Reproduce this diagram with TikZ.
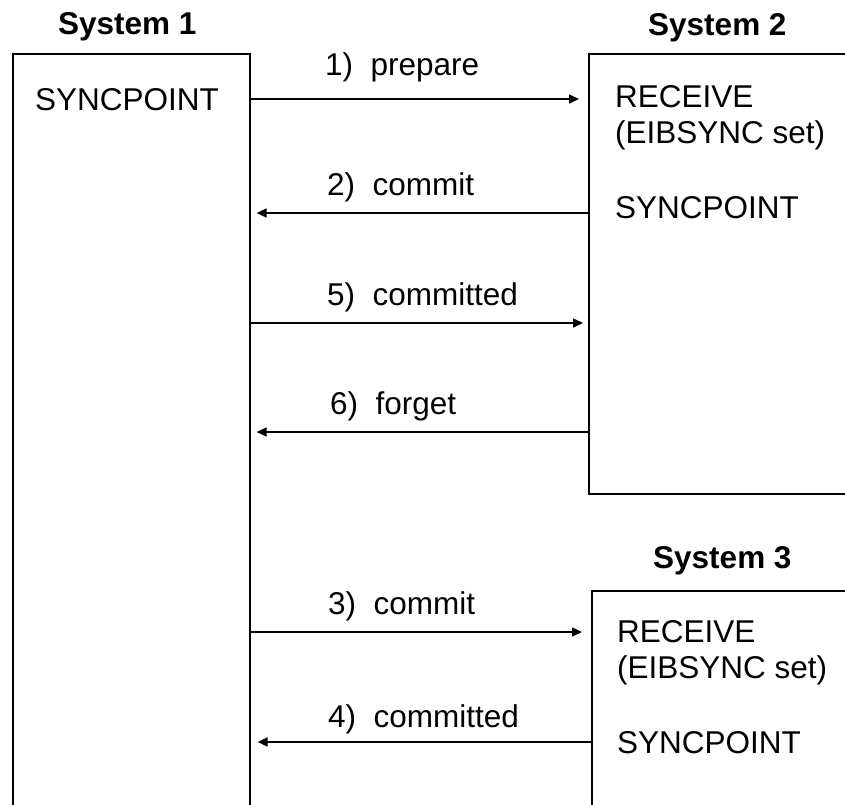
\documentclass[tikz,border=0pt]{standalone}
\usepackage{fontspec}
\setmainfont{Liberation Sans}
\usetikzlibrary{arrows.meta}
\begin{document}
\begin{tikzpicture}[x=1pt,y=-1pt,
  sysbox/.style={draw, line width=1.6pt, anchor=north west, inner sep=0pt},
  ttl/.style={anchor=base west, inner sep=0pt, font=\fontsize{31.5}{37}\selectfont\bfseries},
  txt/.style={anchor=base west, inner sep=0pt, font=\fontsize{31.5}{37}\selectfont},
  msg/.style={line width=1.6pt, -{Triangle[length=10pt,width=9pt]}},
]
\useasboundingbox (0,0) rectangle (845,804);
\clip (0,0) rectangle (845,804);
% boxes
\node[sysbox, minimum width=237pt, minimum height=820pt] (s1) at (12,53) {};
\node[sysbox, minimum width=320pt, minimum height=440pt] (s2) at (588,53) {};
\node[sysbox, minimum width=320pt, minimum height=300pt] (s3) at (591,590) {};
% titles
\node[ttl] (t1) at (58,34) {System 1};
\node[ttl] (t2) at (648,35) {System 2};
\node[ttl] (t3) at (653,568) {System 3};
% contents
\node[txt] (s1sync) at (35,110) {SYNCPOINT};
\node[txt] (s2rec) at (615,107) {RECEIVE};
\node[txt] (s2eib) at (615,143) {(EIBSYNC set)};
\node[txt] (s2sync) at (615,218) {SYNCPOINT};
\node[txt] (s3rec) at (617,642) {RECEIVE};
\node[txt] (s3eib) at (617,678) {(EIBSYNC set)};
\node[txt] (s3sync) at (617,753) {SYNCPOINT};
% arrows
\coordinate (y1) at (0,99);
\coordinate (y2) at (0,213);
\coordinate (y5) at (0,323);
\coordinate (y6) at (0,432);
\coordinate (y3) at (0,632);
\coordinate (y4) at (0,742);
\draw[msg, shorten >=9pt] (s1.east |- y1) -- (s2.west |- y1);
\draw[msg, shorten >=6pt] (s2.west |- y2) -- (s1.east |- y2);
\draw[msg, shorten >=5pt] (s1.east |- y5) -- (s2.west |- y5);
\draw[msg, shorten >=6pt] (s2.west |- y6) -- (s1.east |- y6);
\draw[msg, shorten >=9pt] (s1.east |- y3) -- (s3.west |- y3);
\draw[msg, shorten >=7pt] (s3.west |- y4) -- (s1.east |- y4);
% labels
\node[txt] (l1) at (325,75) {1)\ \ prepare};
\node[txt] (l2) at (327,195) {2)\ \ commit};
\node[txt] (l5) at (327,305) {5)\ \ committed};
\node[txt] (l6) at (330,414) {6)\ \ forget};
\node[txt] (l3) at (328,614) {3)\ \ commit};
\node[txt] (l4) at (328,727) {4)\ \ committed};
\end{tikzpicture}
\end{document}
